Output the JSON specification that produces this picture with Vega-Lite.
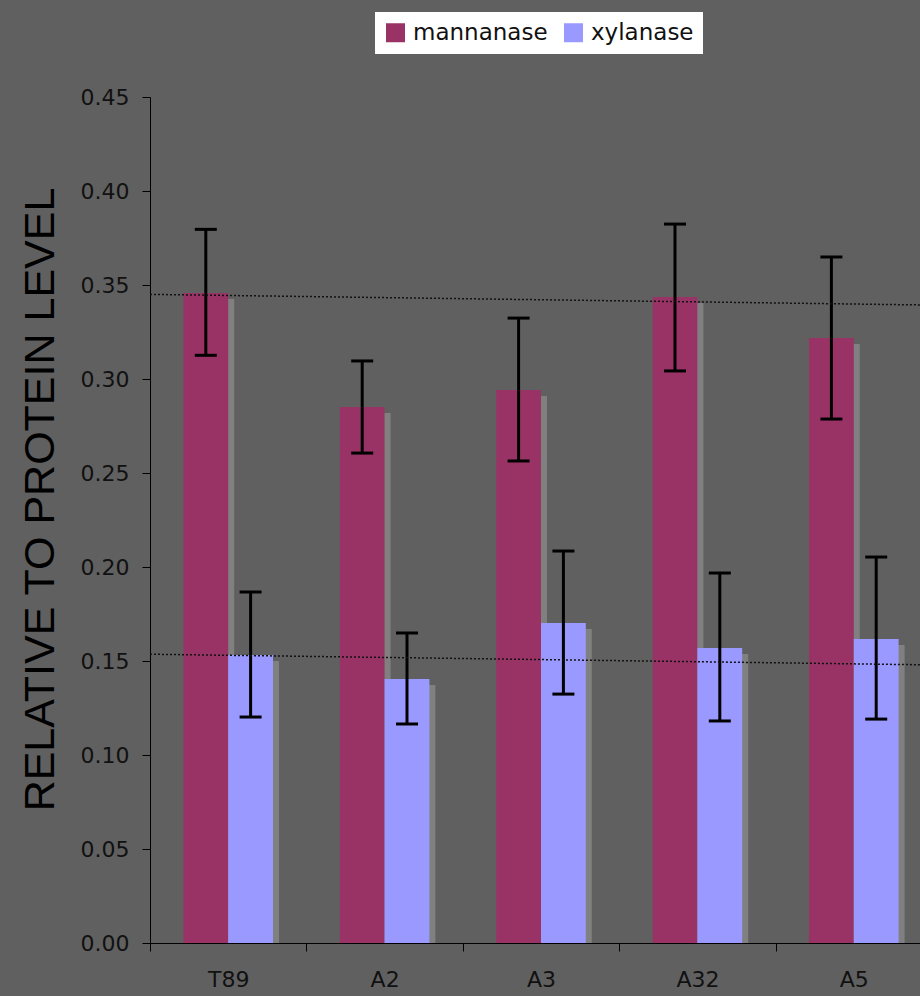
{
  "$schema": "https://vega.github.io/schema/vega-lite/v6.json",
  "width": 770,
  "height": 846,
  "autosize": {"type": "none"},
  "padding": {"left": 150, "top": 97, "right": 0, "bottom": 53},
  "background": "#606060",
  "config": {
    "view": {"stroke": null},
    "axis": {"grid": false, "domainColor": "#000000", "tickColor": "#000000", "labelColor": "#111111", "labelFont": "DejaVu Sans", "labelFontSize": 22, "tickSize": 8, "domainWidth": 1, "tickWidth": 1}
  },
  "datasets": {
    "bars": [
      {"strain": "T89", "enzyme": "mannanase", "value": 0.3457, "lo": 0.3126, "hi": 0.3796},
      {"strain": "T89", "enzyme": "xylanase", "value": 0.1532, "lo": 0.1202, "hi": 0.1867},
      {"strain": "A2", "enzyme": "mannanase", "value": 0.2851, "lo": 0.2606, "hi": 0.3096},
      {"strain": "A2", "enzyme": "xylanase", "value": 0.1404, "lo": 0.1165, "hi": 0.1649},
      {"strain": "A3", "enzyme": "mannanase", "value": 0.2941, "lo": 0.2564, "hi": 0.3324},
      {"strain": "A3", "enzyme": "xylanase", "value": 0.1702, "lo": 0.1324, "hi": 0.2085},
      {"strain": "A32", "enzyme": "mannanase", "value": 0.3436, "lo": 0.3043, "hi": 0.3824},
      {"strain": "A32", "enzyme": "xylanase", "value": 0.1569, "lo": 0.1181, "hi": 0.1968},
      {"strain": "A5", "enzyme": "mannanase", "value": 0.3218, "lo": 0.2787, "hi": 0.3649},
      {"strain": "A5", "enzyme": "xylanase", "value": 0.1617, "lo": 0.1191, "hi": 0.2053}
    ],
    "trend": [
      {"enzyme": "mannanase", "x0": 0, "x1": 1, "y0": 0.3450, "y1": 0.3394},
      {"enzyme": "xylanase", "x0": 0, "x1": 1, "y0": 0.1536, "y1": 0.1480}
    ]
  },
  "layer": [
    {
      "data": {"name": "bars"},
      "encoding": {
        "x": {
          "field": "strain", "type": "nominal",
          "sort": ["T89", "A2", "A3", "A32", "A5"],
          "scale": {"range": [0, 782], "paddingInner": 0, "paddingOuter": 0},
          "axis": {"title": null, "labelAngle": 0, "tickBand": "extent", "labelPadding": 18}
        },
        "xOffset": {
          "field": "enzyme", "type": "nominal",
          "sort": ["mannanase", "xylanase"],
          "scale": {"paddingInner": 0, "paddingOuter": 0.7455}
        }
      },
      "layer": [
        {
          "mark": {"type": "bar", "color": "#808080", "yOffset": 6, "y2Offset": 0.001},
          "encoding": {
            "xOffset": {
              "field": "enzyme", "type": "nominal",
              "sort": ["mannanase", "xylanase"],
              "scale": {"paddingInner": 0, "paddingOuter": 0.7455, "range": [6, 162.4]}
            },
            "y": {
              "field": "value", "type": "quantitative",
              "scale": {"domain": [0, 0.45], "nice": false},
              "axis": {
                "values": [0, 0.05, 0.1, 0.15, 0.2, 0.25, 0.3, 0.35, 0.4, 0.45],
                "format": ".2f", "labelPadding": 13,
                "title": "RELATIVE TO PROTEIN LEVEL",
                "titleFont": "Liberation Sans", "titleFontSize": 43, "titleFontWeight": "normal",
                "titleColor": "#000000", "titleX": -88, "titleY": 402
              }
            },
            "y2": {"datum": 0}
          }
        },
        {
          "mark": {"type": "bar"},
          "encoding": {
            "y": {"field": "value", "type": "quantitative", "title": "RELATIVE TO PROTEIN LEVEL"},
            "color": {
              "field": "enzyme", "type": "nominal",
              "scale": {"domain": ["mannanase", "xylanase"], "range": ["#993366", "#9999FF"]},
              "legend": {
                "orient": "none", "legendX": 225, "legendY": -85, "direction": "horizontal",
                "title": null, "fillColor": "#FFFFFF", "padding": 9,
                "symbolType": "square", "symbolSize": 361, "symbolStrokeWidth": 0, "symbolOpacity": 1,
                "labelFont": "DejaVu Sans", "labelFontSize": 23, "labelColor": "#111111",
                "labelOffset": 6, "columnPadding": 14
              }
            }
          }
        },
        {
          "mark": {"type": "rule", "color": "#000000", "strokeWidth": 3},
          "encoding": {
            "y": {"field": "lo", "type": "quantitative", "title": "RELATIVE TO PROTEIN LEVEL"},
            "y2": {"field": "hi"}
          }
        },
        {
          "mark": {"type": "tick", "color": "#000000", "size": 22, "thickness": 3, "opacity": 1},
          "encoding": {"y": {"field": "lo", "type": "quantitative", "title": "RELATIVE TO PROTEIN LEVEL"}}
        },
        {
          "mark": {"type": "tick", "color": "#000000", "size": 22, "thickness": 3, "opacity": 1},
          "encoding": {"y": {"field": "hi", "type": "quantitative", "title": "RELATIVE TO PROTEIN LEVEL"}}
        }
      ],
      "resolve": {"scale": {"xOffset": "independent"}}
    },
    {
      "data": {"name": "trend"},
      "mark": {"type": "rule", "color": "#111111", "strokeWidth": 1.5, "strokeDash": [2, 2]},
      "encoding": {
        "x": {"field": "x0", "type": "quantitative", "scale": {"domain": [0, 1], "nice": false}, "axis": null},
        "x2": {"field": "x1"},
        "y": {"field": "y0", "type": "quantitative", "title": "RELATIVE TO PROTEIN LEVEL"},
        "y2": {"field": "y1"}
      }
    }
  ],
  "resolve": {"scale": {"x": "independent"}, "axis": {"x": "independent"}}
}
